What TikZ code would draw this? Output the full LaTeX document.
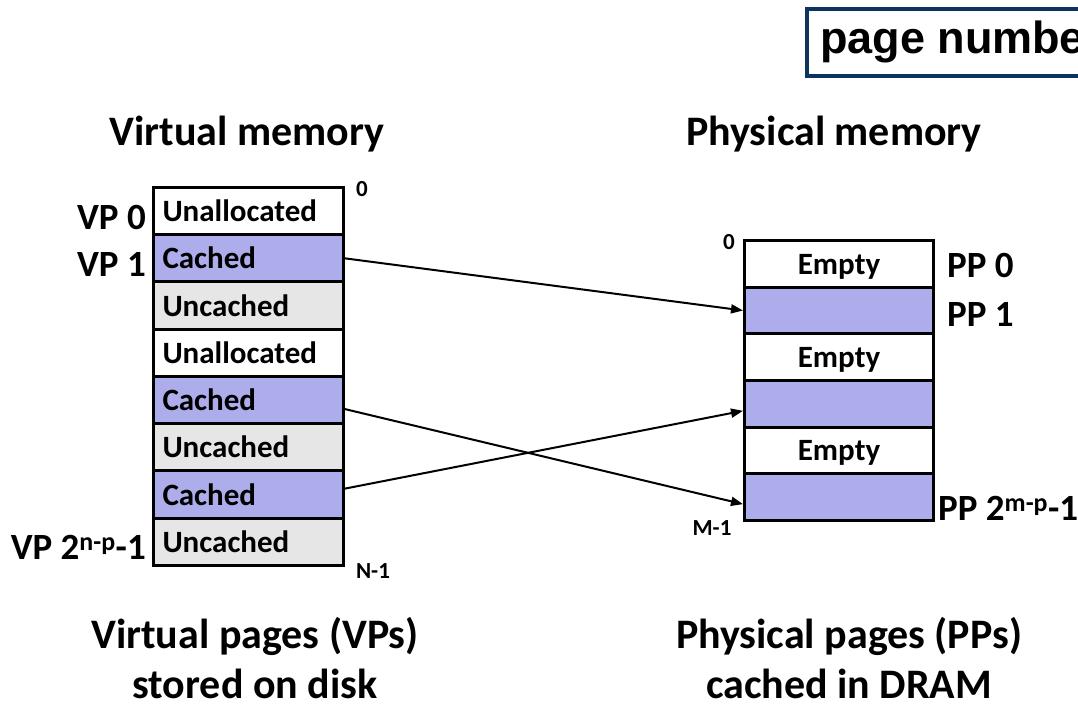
\documentclass[tikz,border=0pt]{standalone}
\usepackage{fontspec}
\setmainfont{Carlito}
\newfontfamily\arialfont{Liberation Sans}
\usetikzlibrary{positioning,arrows.meta,calc}

\definecolor{cachedblue}{RGB}{173,173,235}
\definecolor{uncachedgray}{RGB}{230,230,230}
\definecolor{navy}{RGB}{12,52,97}

\tikzstyle{vpage} = [rectangle, draw, line width=3pt, minimum width=190pt, minimum height=47.25pt, text width=172pt, inner xsep=9pt, inner ysep=0pt, align=left, text height=21pt, text depth=0pt, font=\fontsize{31}{36}\selectfont\bfseries]
\tikzstyle{ppage} = [vpage, minimum width=189pt, minimum height=46.67pt, text width=171pt, align=center]
\tikzstyle{cached} = [fill=cachedblue]
\tikzstyle{uncached} = [fill=uncachedgray]
\tikzstyle{pagelabel} = [font=\fontsize{37}{40}\selectfont\bfseries, inner sep=0pt, text height=24pt, text depth=0pt]
\tikzstyle{addr} = [font=\fontsize{23}{26}\selectfont\bfseries, inner sep=0pt]
\tikzstyle{heading} = [font=\fontsize{42}{50}\selectfont\bfseries, align=center, inner sep=0pt]
\tikzstyle{mapping} = [-{Triangle[length=12pt,width=9pt]}, line width=2pt]

\begin{document}
\begin{tikzpicture}[x=1pt, y=-1pt, node distance=47.25pt]
        \useasboundingbox (0,0) rectangle (1078,704);
        \clip (0,0) rectangle (1078,704);

        % virtual pages
        \node [vpage] (v0) at (248.5,211.1) {Unallocated};
        \node [vpage, cached, below of=v0] (v1) {Cached};
        \node [vpage, uncached, below of=v1] (v2) {Uncached};
        \node [vpage, below of=v2] (v3) {Unallocated};
        \node [vpage, cached, below of=v3] (v4) {Cached};
        \node [vpage, uncached, below of=v4] (v5) {Uncached};
        \node [vpage, cached, below of=v5] (v6) {Cached};
        \node [vpage, uncached, below of=v6] (v7) {Uncached};

        \node [pagelabel, left=6pt of v0, yshift=-6pt] (vp0) {VP 0};
        \node [pagelabel, left=6pt of v1, yshift=-6pt] (vp1) {VP 1};
        \node [pagelabel, left=6pt of v7, yshift=-6pt] (vpn) {VP 2\textsuperscript{n-p}-1};
        \node [addr] (vtop) at (362,189) {0};
        \node [addr] (vbot) at (373,571) {N-1};

        % physical pages
        \begin{scope}[node distance=46.67pt]
        \node [ppage] (p0) at (839,263.8) {Empty};
        \node [ppage, cached, below of=p0] (p1) {};
        \node [ppage, below of=p1] (p2) {Empty};
        \node [ppage, cached, below of=p2] (p3) {};
        \node [ppage, below of=p3] (p4) {Empty};
        \node [ppage, cached, below of=p4] (p5) {};
        \end{scope}

        \node [pagelabel, right=12pt of p0, yshift=-2pt] (pp0) {PP 0};
        \node [pagelabel, right=12pt of p1, yshift=-4pt] (pp1) {PP 1};
        \node [pagelabel, right=3pt of p5, yshift=-11pt] (ppn) {PP 2\textsuperscript{m-p}-1};
        \node [addr] (ptop) at (729,242) {0};
        \node [addr] (pbot) at (712,528) {M-1};

        % headings
        \node [heading] (vtitle) at (247,134) {Virtual memory};
        \node [heading] (ptitle) at (834,134) {Physical memory};
        \node [heading] (vnote) at (255,658) {Virtual pages (VPs)\\stored on disk};
        \node [heading] (pnote) at (849,658) {Physical pages (PPs)\\cached in DRAM};

        \node [draw=navy, line width=4pt, anchor=west, minimum height=67pt, inner xsep=13pt, text height=32pt, text depth=10pt, font=\arialfont\fontsize{45}{50}\selectfont\bfseries] (pnum) at (805,42.5) {page number};

        % mappings
        \draw [mapping] (v1.east) -- (p1.west);
        \draw [mapping] ($(v4.east)+(0,9)$) -- ($(p5.west)+(0,7)$);
        \draw [mapping] ($(v6.east)+(0,-6)$) -- ($(p3.west)+(0,7)$);

    \end{tikzpicture}
\end{document}
